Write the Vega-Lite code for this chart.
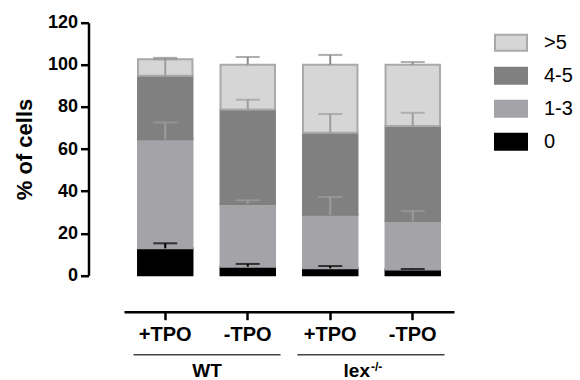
{
  "$schema": "https://vega.github.io/schema/vega-lite/v6.json",
  "width": 330,
  "height": 252.6,
  "autosize": {"type": "none"},
  "padding": {"left": 124, "top": 22.7, "right": 126, "bottom": 104.7},
  "config": {"view": {"stroke": null}, "font": "Liberation Sans"},
  "resolve": {"scale": {"x": "independent"}},
  "layer": [
    {
      "data": {
        "values": [
          {"id": "WT +TPO", "cat": "0", "pct": 12.8, "err": 15.2},
          {"id": "WT +TPO", "cat": "1-3", "pct": 51.8, "err": 72.6},
          {"id": "WT +TPO", "cat": "4-5", "pct": 30.2, "err": 102.6},
          {"id": "WT +TPO", "cat": ">5", "pct": 7.8, "err": 103.3},
          {"id": "WT -TPO", "cat": "0", "pct": 4.1, "err": 5.4},
          {"id": "WT -TPO", "cat": "1-3", "pct": 29.8, "err": 35.6},
          {"id": "WT -TPO", "cat": "4-5", "pct": 44.9, "err": 83.4},
          {"id": "WT -TPO", "cat": ">5", "pct": 21.2, "err": 103.7},
          {"id": "lex +TPO", "cat": "0", "pct": 3.3, "err": 4.4},
          {"id": "lex +TPO", "cat": "1-3", "pct": 25.5, "err": 37.2},
          {"id": "lex +TPO", "cat": "4-5", "pct": 38.9, "err": 76.6},
          {"id": "lex +TPO", "cat": ">5", "pct": 32.3, "err": 104.7},
          {"id": "lex -TPO", "cat": "0", "pct": 2.8, "err": 3.0},
          {"id": "lex -TPO", "cat": "1-3", "pct": 23.0, "err": 30.5},
          {"id": "lex -TPO", "cat": "4-5", "pct": 45.1, "err": 77.2},
          {"id": "lex -TPO", "cat": ">5", "pct": 29.1, "err": 101.3}
        ]
      },
      "transform": [
        {"stack": "pct", "groupby": ["id"], "sort": [{"field": "cat", "order": "ascending"}], "as": ["lo", "hi"]}
      ],
      "encoding": {
        "x": {
          "field": "id",
          "type": "nominal",
          "sort": ["WT +TPO", "WT -TPO", "lex +TPO", "lex -TPO"],
          "scale": {"paddingInner": 0.34, "paddingOuter": 0.17},
          "axis": {
            "title": null,
            "orient": "bottom",
            "offset": 36.4,
            "labelAngle": 0,
            "labelExpr": "split(datum.label, ' ')[1]",
            "labelFontSize": 20,
            "labelFontWeight": "bold",
            "labelColor": "#000",
            "labelPadding": 5,
            "domainColor": "#000",
            "domainWidth": 2.5,
            "tickColor": "#000",
            "tickWidth": 2.5,
            "tickSize": 8
          }
        }
      },
      "layer": [
        {
          "mark": {"type": "bar", "strokeWidth": 2},
          "encoding": {
            "y": {
              "field": "hi",
              "type": "quantitative",
              "scale": {"domain": [0, 120], "nice": false},
              "axis": {
                "title": "% of cells",
                "titleFontSize": 22,
                "titleFontWeight": "bold",
                "titleColor": "#000",
                "titlePadding": 11,
                "values": [0, 20, 40, 60, 80, 100, 120],
                "labelFontSize": 18,
                "labelFontWeight": "bold",
                "labelColor": "#000",
                "labelPadding": 3,
                "domainColor": "#000",
                "domainWidth": 2.5,
                "tickColor": "#000",
                "tickWidth": 2.5,
                "tickSize": 8,
                "offset": 35.5,
                "grid": false
              }
            },
            "y2": {"field": "lo"},
            "color": {
              "field": "cat",
              "type": "nominal",
              "scale": {"domain": [">5", "4-5", "1-3", "0"], "range": ["#d6d6d6", "#808080", "#a4a4a8", "#000000"]},
              "legend": {
                "title": null,
                "orient": "none",
                "legendX": 370,
                "legendY": 3,
                "padding": 0,
                "symbolType": "M-1,-0.5H1V0.5H-1Z",
                "symbolSize": 1024,
                "symbolStrokeWidth": 2,
                "labelFontSize": 20,
                "labelColor": "#000",
                "labelOffset": 16,
                "rowPadding": 4
              }
            },
            "stroke": {
              "field": "cat",
              "type": "nominal",
              "scale": {"domain": [">5", "4-5", "1-3", "0"], "range": ["#a9a9a9", "#808080", "#a4a4a8", "#000000"]},
              "legend": {
                "title": null,
                "orient": "none",
                "legendX": 370,
                "legendY": 3,
                "padding": 0,
                "symbolType": "M-1,-0.5H1V0.5H-1Z",
                "symbolSize": 1024,
                "symbolStrokeWidth": 2,
                "labelFontSize": 20,
                "labelColor": "#000",
                "labelOffset": 16,
                "rowPadding": 4
              }
            }
          }
        },
        {
          "mark": {"type": "rule", "strokeWidth": 2},
          "encoding": {
            "y": {"field": "hi", "type": "quantitative"},
            "y2": {"field": "err"},
            "stroke": {
              "condition": [
                {"test": "datum.cat === '0'", "value": "#000000"},
                {"test": "datum.cat === '>5'", "value": "#8c8c8c"}
              ],
              "value": "#9c9c9c"
            }
          }
        },
        {
          "mark": {"type": "tick", "size": 24, "thickness": 2},
          "encoding": {
            "y": {"field": "err", "type": "quantitative"},
            "color": {
              "condition": [
                {"test": "datum.cat === '0'", "value": "#000000"},
                {"test": "datum.cat === '>5'", "value": "#8c8c8c"}
              ],
              "value": "#9c9c9c"
            }
          }
        }
      ]
    },
    {
      "data": {"values": [{"group": "WT", "name": "WT"}, {"group": "lex", "name": "lex"}]},
      "encoding": {
        "x": {
          "field": "group",
          "type": "nominal",
          "sort": ["WT", "lex"],
          "scale": {"paddingInner": 0.103, "paddingOuter": 0.058},
          "axis": null
        }
      },
      "layer": [
        {
          "mark": {"type": "bar", "color": "#444444"},
          "encoding": {"y": {"datum": -37.4}, "y2": {"datum": -38.1}}
        },
        {
          "transform": [{"filter": "datum.group === 'WT'"}],
          "mark": {"type": "text", "fontSize": 19, "fontWeight": "bold", "baseline": "alphabetic", "align": "center", "color": "#000"},
          "encoding": {"y": {"datum": -48.1}, "text": {"field": "name"}}
        },
        {
          "transform": [{"filter": "datum.group === 'lex'"}],
          "mark": {"type": "text", "fontSize": 19, "fontWeight": "bold", "baseline": "alphabetic", "align": "right", "dx": -1, "color": "#000"},
          "encoding": {"y": {"datum": -48.1}, "text": {"field": "name"}}
        },
        {
          "transform": [{"filter": "datum.group === 'lex'"}],
          "mark": {"type": "text", "fontSize": 12, "fontWeight": "bold", "baseline": "alphabetic", "align": "left", "dx": 0, "color": "#000"},
          "encoding": {"y": {"datum": -45.6}, "text": {"value": "-/-"}}
        }
      ]
    }
  ]
}
